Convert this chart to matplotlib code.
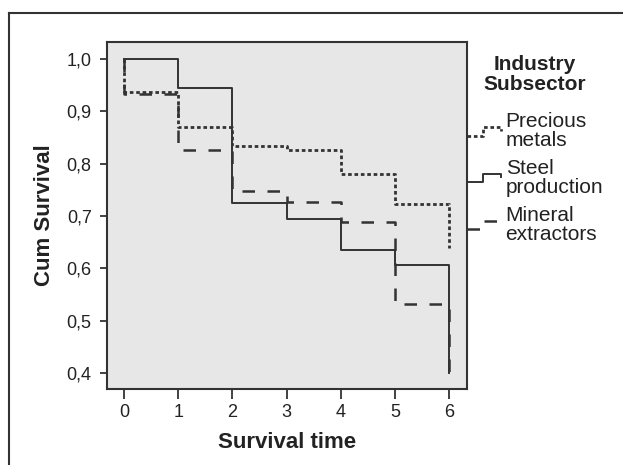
import matplotlib
matplotlib.use("Agg")
import matplotlib.pyplot as plt
from matplotlib.lines import Line2D
from matplotlib.legend_handler import HandlerBase

plt.rcParams['font.family'] = ['Liberation Sans', 'DejaVu Sans']

# Kaplan-Meier survival estimates per subsector
precious_time = [0, 0, 1, 2, 3, 4, 5, 6]
precious_surv = [1.0, 0.937, 0.870, 0.834, 0.826, 0.780, 0.723, 0.639]
steel_time = [0, 1, 2, 3, 4, 5, 6]
steel_surv = [1.0, 0.944, 0.724, 0.694, 0.635, 0.606, 0.40]
mineral_time = [0, 0, 1, 2, 3, 4, 5, 6]
mineral_surv = [1.0, 0.933, 0.827, 0.748, 0.727, 0.688, 0.531, 0.40]

group_labels = ['Precious\nmetals', 'Steel\nproduction', 'Mineral\nextractors']
x_ticks = [0, 1, 2, 3, 4, 5, 6]
y_ticks = [0.4, 0.5, 0.6, 0.7, 0.8, 0.9, 1.0]
y_tick_labels = ['0,4', '0,5', '0,6', '0,7', '0,8', '0,9', '1,0']

ink = '#333333'


class StepHandler(HandlerBase):
    # small step shaped legend glyph like the SPSS output
    def create_artists(self, legend, orig_handle, xdescent, ydescent,
                       width, height, fontsize, trans):
        x0 = -xdescent
        yc = -ydescent + height / 2
        dy = 3.0
        xs = [x0, x0 + 0.45 * width, x0 + 0.45 * width, x0 + 0.97 * width, x0 + 0.97 * width]
        ys = [yc - dy, yc - dy, yc + dy, yc + dy, yc + dy - 2.5]
        line = Line2D(xs, ys)
        self.update_prop(line, orig_handle, legend)
        line.set_drawstyle('default')
        line.set_transform(trans)
        return [line]


fig = plt.figure(figsize=(6.23, 4.65), dpi=100)
ax = fig.add_axes([0.1717, 0.1634, 0.578, 0.7462])
ax.set_facecolor('#e7e7e7')

l1, = ax.step(precious_time, precious_surv, where='post', color=ink,
              lw=2.0, linestyle=(0, (1.3, 1.0)))
l2, = ax.step(steel_time, steel_surv, where='post', color=ink, lw=1.4)
l3, = ax.step(mineral_time, mineral_surv, where='post', color=ink,
              lw=1.8, linestyle=(0, (5.0, 5.0)))

ax.set_xlim(-0.314, 6.33)
ax.set_ylim(0.369, 1.0325)
ax.set_xticks(x_ticks)
ax.set_xticklabels([str(t) for t in x_ticks])
ax.set_yticks(y_ticks)
ax.set_yticklabels(y_tick_labels)
ax.tick_params(axis='both', colors=ink, labelcolor='#222222', labelsize=13,
               width=1.3)
ax.tick_params(axis='y', length=5, pad=6)
ax.tick_params(axis='x', length=7, pad=4)
for s in ax.spines.values():
    s.set_color(ink)
    s.set_linewidth(1.5)

ax.set_xlabel('Survival time', fontsize=16, fontweight='bold', color='#222222', labelpad=8)
ax.set_ylabel('Cum Survival', fontsize=16, fontweight='bold', color='#222222', labelpad=8)

leg = ax.legend([l1, l2, l3], group_labels, loc='upper left',
                bbox_to_anchor=(1.0, 0.798), borderaxespad=0, borderpad=0,
                frameon=False, fontsize=15, handlelength=1.7,
                handletextpad=0.15, labelspacing=0.42,
                handler_map={Line2D: StepHandler()})
for t in leg.get_texts():
    t.set_color('#222222')
    t.set_linespacing(1.0)

fig.text(535 / 623, 1 - 55 / 465, 'Industry\nSubsector', ha='center', va='top',
         fontsize=15, fontweight='bold', color='#222222', linespacing=1.05)

# outer frame of the original figure (only top and left visible)
fig.add_artist(Line2D([9 / 623, 1], [1 - 13 / 465, 1 - 13 / 465],
                      transform=fig.transFigure, color=ink, lw=1.5))
fig.add_artist(Line2D([9 / 623, 9 / 623], [0, 1 - 13 / 465],
                      transform=fig.transFigure, color=ink, lw=1.5))

fig.savefig('out.png', dpi=100)
